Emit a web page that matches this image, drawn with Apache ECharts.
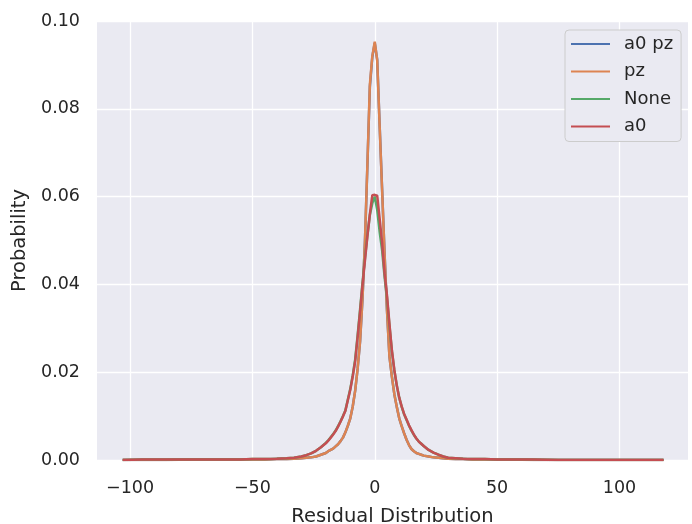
<!DOCTYPE html>
<html>
<head>
<meta charset="utf-8">
<script src="https://cdn.jsdelivr.net/npm/echarts@6/dist/echarts.min.js"></script>
<style>
  html, body { margin: 0; padding: 0; background: #fff; }
  #chart { width: 692px; height: 524px; }
</style>
</head>
<body>
<div id="chart"></div>
<script>
// residual values (x) shared by all series
const xVals = [
  -103, -95, -85, -75, -65, -55, -50, -45, -40, -36,
  -33, -30, -28, -26, -24, -22, -20, -19, -18, -17,
  -16, -15, -14, -13, -12, -11, -10, -9, -8, -7,
  -6, -5, -4, -3, -2, -1, 0, 1, 2, 3,
  4, 5, 6, 7, 8, 9, 10, 11, 12, 13,
  14, 15, 16, 17, 18, 19, 20, 22, 24, 26,
  28, 30, 33, 36, 40, 45, 50, 55, 65, 75,
  85, 95, 105, 118
]

const a0pzVals = [
  0.0000, 0.0000, 0.0000, 0.0001, 0.0001, 0.0001, 0.0001, 0.0001, 0.0002, 0.0002,
  0.0003, 0.0004, 0.0005, 0.0006, 0.0008, 0.0012, 0.0016, 0.0020, 0.0023, 0.0026,
  0.0031, 0.0036, 0.0043, 0.0051, 0.0063, 0.0078, 0.0095, 0.0122, 0.0158, 0.0208,
  0.0270, 0.0368, 0.0498, 0.0672, 0.0850, 0.0918, 0.0950, 0.0912, 0.0762, 0.0618,
  0.0472, 0.0342, 0.0236, 0.0190, 0.0150, 0.0121, 0.0095, 0.0077, 0.0061, 0.0046,
  0.0034, 0.0025, 0.0020, 0.0016, 0.0014, 0.0012, 0.0010, 0.0008, 0.0006, 0.0005,
  0.0004, 0.0003, 0.0002, 0.0002, 0.0001, 0.0001, 0.0001, 0.0001, 0.0000, 0.0000,
  0.0000, 0.0000, 0.0000, 0.0000
]

const pzVals = [
  0.0000, 0.0000, 0.0000, 0.0001, 0.0001, 0.0001, 0.0001, 0.0001, 0.0002, 0.0002,
  0.0003, 0.0004, 0.0005, 0.0006, 0.0008, 0.0012, 0.0016, 0.0020, 0.0023, 0.0026,
  0.0031, 0.0036, 0.0043, 0.0051, 0.0063, 0.0078, 0.0095, 0.0122, 0.0158, 0.0208,
  0.0270, 0.0370, 0.0500, 0.0675, 0.0855, 0.0920, 0.0953, 0.0910, 0.0760, 0.0615,
  0.0470, 0.0340, 0.0235, 0.0190, 0.0150, 0.0121, 0.0095, 0.0077, 0.0061, 0.0046,
  0.0034, 0.0025, 0.0020, 0.0016, 0.0014, 0.0012, 0.0010, 0.0008, 0.0006, 0.0005,
  0.0004, 0.0003, 0.0002, 0.0002, 0.0001, 0.0001, 0.0001, 0.0001, 0.0000, 0.0000,
  0.0000, 0.0000, 0.0000, 0.0000
]

const noneVals = [
  0.0000, 0.0001, 0.0001, 0.0001, 0.0001, 0.0001, 0.0002, 0.0002, 0.0003, 0.0004,
  0.0005, 0.0008, 0.0011, 0.0015, 0.0021, 0.0029, 0.0039, 0.0045, 0.0052, 0.0059,
  0.0067, 0.0077, 0.0088, 0.0100, 0.0113, 0.0138, 0.0162, 0.0193, 0.0229, 0.0284,
  0.0343, 0.0404, 0.0460, 0.0512, 0.0558, 0.0585, 0.0600, 0.0570, 0.0520, 0.0478,
  0.0418, 0.0370, 0.0306, 0.0248, 0.0204, 0.0170, 0.0142, 0.0121, 0.0104, 0.0091,
  0.0078, 0.0067, 0.0057, 0.0049, 0.0042, 0.0037, 0.0032, 0.0023, 0.0017, 0.0012,
  0.0008, 0.0005, 0.0004, 0.0003, 0.0002, 0.0002, 0.0001, 0.0001, 0.0001, 0.0000,
  0.0000, 0.0000, 0.0000, 0.0000
]

const a0Vals = [
  0.0000, 0.0001, 0.0001, 0.0001, 0.0001, 0.0001, 0.0002, 0.0002, 0.0003, 0.0004,
  0.0005, 0.0008, 0.0011, 0.0015, 0.0021, 0.0029, 0.0038, 0.0044, 0.0051, 0.0058,
  0.0066, 0.0076, 0.0087, 0.0099, 0.0112, 0.0136, 0.0160, 0.0190, 0.0225, 0.0280,
  0.0338, 0.0400, 0.0455, 0.0510, 0.0560, 0.0603, 0.0604, 0.0602, 0.0550, 0.0495,
  0.0425, 0.0375, 0.0310, 0.0250, 0.0205, 0.0170, 0.0142, 0.0122, 0.0105, 0.0092,
  0.0079, 0.0068, 0.0058, 0.0049, 0.0042, 0.0037, 0.0032, 0.0023, 0.0017, 0.0012,
  0.0008, 0.0005, 0.0004, 0.0003, 0.0002, 0.0002, 0.0001, 0.0001, 0.0001, 0.0000,
  0.0000, 0.0000, 0.0000, 0.0000
]

const seriesNames = ['a0 pz', 'pz', 'None', 'a0']
const seriesColors = ['#4c72b0', '#dd8452', '#55a868', '#c44e52']
const xTicks = [-100, -50, 0, 50, 100]

function pairs (ys) {
  return xVals.map((x, i) => [x, ys[i]])
}

const allVals = [a0pzVals, pzVals, noneVals, a0Vals]
const txt = '#262626'
const font = 'DejaVu Sans'

const chart = echarts.init(document.getElementById('chart'))
chart.setOption({
  animation: false,
  color: seriesColors,
  grid: {
    left: 97,
    right: 4,
    top: 21,
    bottom: 64,
    outerBoundsMode: 'none',
    containLabel: false,
    show: true,
    backgroundColor: '#eaeaf2',
    borderWidth: 0
  },
  legend: {
    orient: 'vertical',
    left: 565,
    top: 30,
    icon: 'rect',
    itemWidth: 39,
    itemHeight: 2,
    itemGap: 9.5,
    padding: [5, 8, 6, 6],
    backgroundColor: '#eaeaf2',
    borderColor: '#cccccc',
    borderWidth: 1,
    borderRadius: 4,
    textStyle: { color: txt, fontFamily: font, fontSize: 18, padding: [0, 0, 0, 9] },
    data: seriesNames
  },
  xAxis: {
    type: 'value',
    min: -113.5,
    max: 128,
    name: 'Residual Distribution',
    nameLocation: 'middle',
    nameGap: 47,
    nameTextStyle: { color: txt, fontFamily: font, fontSize: 19.5 },
    axisLine: { show: false },
    axisTick: { show: false, customValues: xTicks },
    axisLabel: {
      customValues: xTicks,
      color: txt,
      fontFamily: font,
      fontSize: 17.5,
      margin: 19,
      formatter: v => (v < 0 ? '\u2212' + Math.abs(v) : '' + v)
    },
    splitLine: { show: true, lineStyle: { color: '#ffffff', width: 1.3 } }
  },
  yAxis: {
    type: 'value',
    min: 0,
    max: 0.1,
    interval: 0.02,
    name: 'Probability',
    nameLocation: 'middle',
    nameGap: 66,
    nameTextStyle: { color: txt, fontFamily: font, fontSize: 19.5 },
    axisLine: { show: false },
    axisTick: { show: false },
    axisLabel: {
      color: txt,
      fontFamily: font,
      fontSize: 17.5,
      margin: 17,
      formatter: v => v.toFixed(2)
    },
    splitLine: { show: true, lineStyle: { color: '#ffffff', width: 1.3 } }
  },
  series: seriesNames.map((name, i) => ({
    name: name,
    type: 'line',
    data: pairs(allVals[i]),
    symbol: 'none',
    clip: true,
    lineStyle: { width: 2.5, color: seriesColors[i] },
    z: 2 + i
  }))
})
</script>
</body>
</html>
